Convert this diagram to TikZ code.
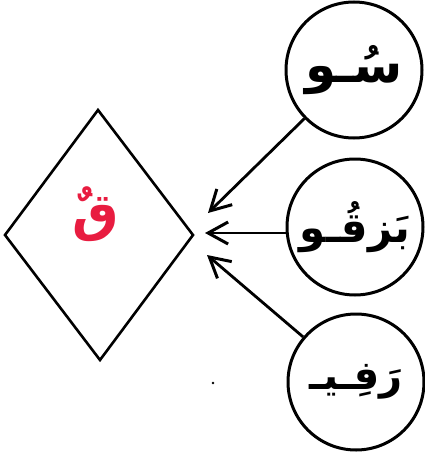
\documentclass[tikz,border=0pt]{standalone}
\usepackage{fontspec}
\usetikzlibrary{arrows.meta}
\TeXXeTstate=1
\newfontfamily\arabicfont[Script=Arabic]{DejaVu Sans}
\definecolor{letterred}{RGB}{232,28,64}
\begin{document}
\begin{tikzpicture}[x=1pt,y=-1pt,
  bubble/.style={draw,line width=3pt,circle,minimum size=136pt,inner sep=0pt},
  arabtxt/.style={font=\arabicfont\bfseries\fontsize{#1}{#1}\selectfont},
  conn/.style={line width=2.8pt,-{Straight Barb[length=20pt,width=22pt,line width=3pt]}}]
\useasboundingbox (0,0) rectangle (425,455);
\draw[line width=2.6pt,line join=miter] (5,235) coordinate (dl) -- (98,110) coordinate (dt) -- (193,235) coordinate (dr) -- (100,360) coordinate (db) -- cycle;
\node[text=letterred,font=\arabicfont\bfseries\fontsize{52}{52}\selectfont] (q) at (96,214) {\beginR قٌ\endR};
\node[bubble,arabtxt=50] (c1) at (354,70) {\beginR سُـو\endR};
\node[bubble,arabtxt=42] (c2) at (355,227) {\beginR بَزقُـو\endR};
\node[bubble,arabtxt=40] (c3) at (356,382) {\beginR رَفِـيـ\endR};
\coordinate (a1) at (208,213);
\coordinate (a2) at (205,233);
\coordinate (a3) at (207,255);
\draw[conn] (c1) -- (a1);
\draw[conn] (c2.west |- a2) -- (a2);
\draw[conn] (c3) -- (a3);
\fill (213,383) circle (1.3pt);
\end{tikzpicture}
\end{document}
